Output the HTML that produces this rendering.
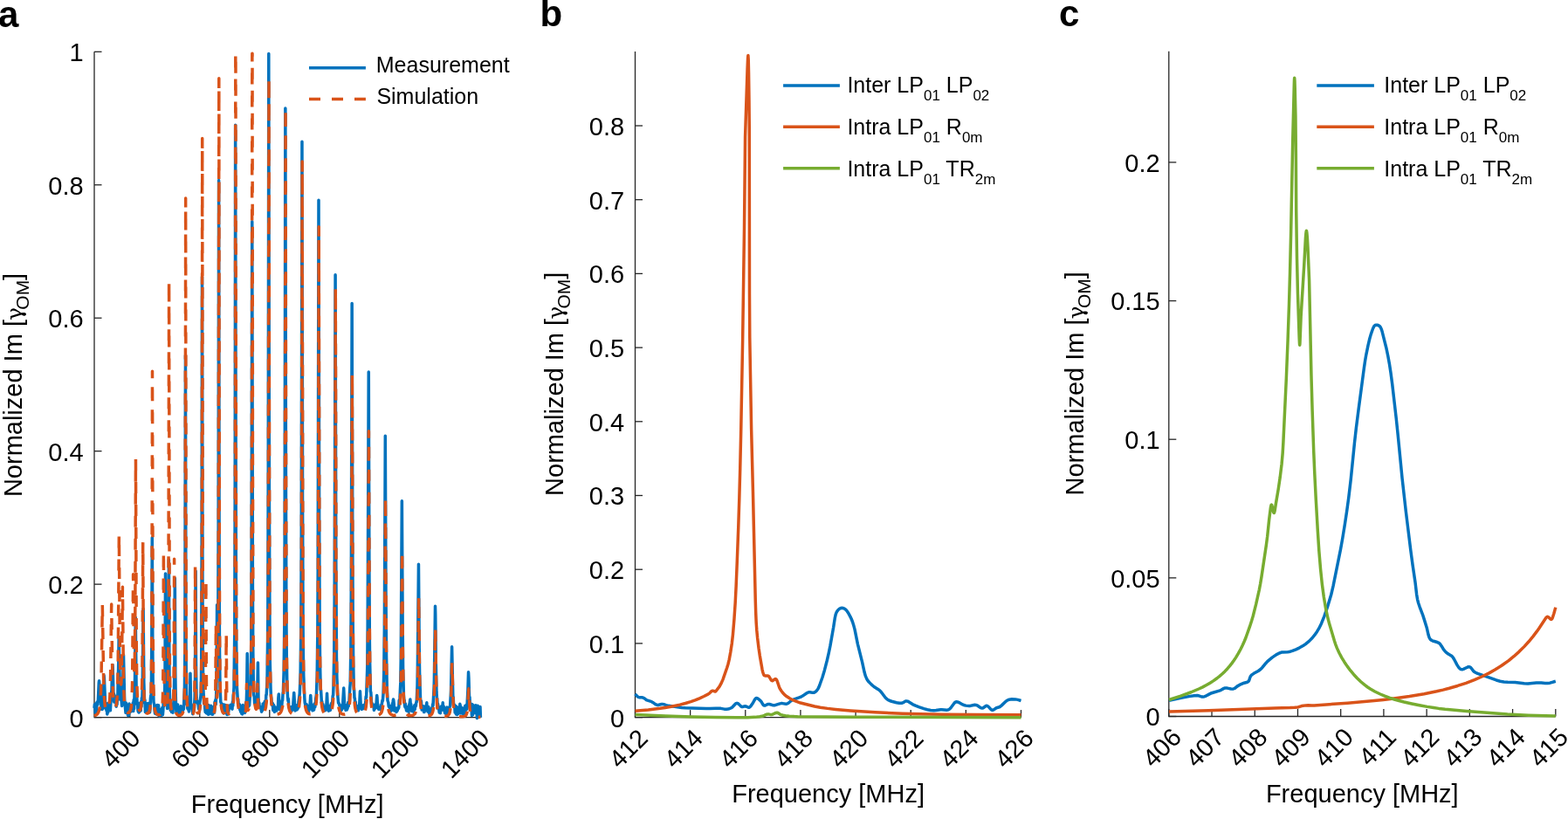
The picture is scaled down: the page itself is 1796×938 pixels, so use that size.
<!DOCTYPE html><html><head><meta charset="utf-8"><title>Figure</title><style>html,body{margin:0;padding:0;background:#fff;overflow:hidden}svg{display:block}</style></head><body>
<svg width="1796" height="938" viewBox="0 0 1796 938" font-family="'Liberation Sans', Arial, Helvetica, sans-serif" fill="#000">
<rect width="1796" height="938" fill="#fff"/>
<text x="-2" y="31.2" font-size="42" font-weight="bold">a</text>
<text x="618.5" y="29.8" font-size="42" font-weight="bold">b</text>
<text x="1213" y="30.2" font-size="42" font-weight="bold">c</text>
<path d="M108.00 59.30V821.60H550.40" fill="none" stroke="#262626" stroke-width="1.3"/>
<path d="M108.00 821.60H116.50" stroke="#262626" stroke-width="1.3"/>
<text x="95.60" y="832.50" text-anchor="end" font-size="29">0</text>
<path d="M108.00 669.14H116.50" stroke="#262626" stroke-width="1.3"/>
<text x="95.60" y="680.04" text-anchor="end" font-size="29">0.2</text>
<path d="M108.00 516.68H116.50" stroke="#262626" stroke-width="1.3"/>
<text x="95.60" y="527.58" text-anchor="end" font-size="29">0.4</text>
<path d="M108.00 364.22H116.50" stroke="#262626" stroke-width="1.3"/>
<text x="95.60" y="375.12" text-anchor="end" font-size="29">0.6</text>
<path d="M108.00 211.76H116.50" stroke="#262626" stroke-width="1.3"/>
<text x="95.60" y="222.66" text-anchor="end" font-size="29">0.8</text>
<path d="M108.00 59.30H116.50" stroke="#262626" stroke-width="1.3"/>
<text x="95.60" y="70.20" text-anchor="end" font-size="29">1</text>
<path d="M148.80 821.60V813.10" stroke="#262626" stroke-width="1.3"/>
<text transform="translate(162.50 847.30) rotate(-45)" text-anchor="end" font-size="29">400</text>
<path d="M228.80 821.60V813.10" stroke="#262626" stroke-width="1.3"/>
<text transform="translate(242.50 847.30) rotate(-45)" text-anchor="end" font-size="29">600</text>
<path d="M308.80 821.60V813.10" stroke="#262626" stroke-width="1.3"/>
<text transform="translate(322.50 847.30) rotate(-45)" text-anchor="end" font-size="29">800</text>
<path d="M388.80 821.60V813.10" stroke="#262626" stroke-width="1.3"/>
<text transform="translate(402.50 847.30) rotate(-45)" text-anchor="end" font-size="29">1000</text>
<path d="M468.80 821.60V813.10" stroke="#262626" stroke-width="1.3"/>
<text transform="translate(482.50 847.30) rotate(-45)" text-anchor="end" font-size="29">1200</text>
<path d="M548.80 821.60V813.10" stroke="#262626" stroke-width="1.3"/>
<text transform="translate(562.50 847.30) rotate(-45)" text-anchor="end" font-size="29">1400</text>
<path d="M108.00 811.00L108.40 806.68L108.80 808.31L109.20 816.42L109.60 814.93L110.00 805.75L110.40 818.32L110.80 805.06L111.20 804.18L111.60 807.29L111.80 807.22L112.00 806.81L112.30 803.70L113.25 782.51L113.55 779.67L114.00 785.79L114.40 787.50L115.20 802.30L115.60 798.66L116.00 811.25L116.40 812.29L116.80 805.05L117.20 812.41L117.60 810.21L118.40 792.49L118.80 775.80L119.05 773.58L119.40 776.85L120.80 811.36L121.00 811.49L121.20 811.30L121.60 805.47L122.00 813.86L122.40 812.01L122.80 817.91L123.20 805.86L123.60 816.05L124.00 814.39L124.40 805.18L124.80 810.48L125.20 805.12L125.60 807.67L126.00 805.35L126.40 813.78L126.80 805.23L127.20 802.66L127.60 792.02L127.80 791.78L128.00 790.17L128.40 770.99L128.95 761.38L129.20 764.96L130.00 797.71L130.40 794.39L130.80 804.06L131.20 796.41L131.60 801.55L132.20 798.21L132.30 797.98L132.45 798.12L132.80 799.66L133.20 809.13L133.60 805.12L134.00 806.90L134.40 801.67L134.60 801.58L134.80 800.57L135.20 776.98L135.60 767.32L136.15 731.65L137.60 801.11L138.00 795.78L138.80 798.68L139.60 808.46L140.00 804.63L141.50 749.94L142.55 798.03L142.80 803.83L144.00 816.28L144.40 805.11L144.80 811.64L145.20 810.95L145.60 814.53L146.00 808.61L146.40 819.25L146.80 814.40L147.20 819.42L147.60 818.16L148.00 806.11L148.80 813.86L149.20 812.47L149.60 807.42L150.00 814.90L150.40 811.26L150.80 809.75L151.20 814.19L152.40 804.77L152.80 814.48L153.20 801.62L153.60 811.79L154.55 776.26L155.25 707.26L156.15 792.65L156.80 799.63L157.20 806.97L157.60 805.84L158.00 814.01L158.40 815.10L158.80 813.21L159.20 816.05L159.60 813.81L160.00 805.33L160.80 813.46L161.20 813.92L161.60 803.55L162.00 809.30L162.40 799.36L162.80 801.14L163.20 790.43L164.10 697.35L164.80 781.23L165.60 805.47L166.00 801.72L166.40 815.45L166.80 811.51L167.20 810.96L167.60 805.41L168.00 815.41L168.40 807.87L168.80 809.75L169.20 809.18L169.60 810.32L170.00 805.42L170.40 813.99L170.80 812.67L171.60 815.89L172.00 812.15L172.40 799.95L172.80 796.35L173.00 797.47L173.20 796.62L173.40 783.94L173.80 738.12L174.30 615.78L174.85 742.41L175.20 783.51L175.60 790.46L176.00 804.12L176.80 807.35L177.20 814.78L177.60 817.28L178.40 808.70L178.80 808.32L179.20 809.72L179.60 818.29L180.00 807.55L180.40 809.17L180.80 808.23L181.20 813.11L181.60 807.83L182.00 819.64L182.80 819.99L183.20 816.83L183.60 816.85L184.00 817.62L184.40 812.41L184.80 819.43L185.20 811.85L185.60 817.37L186.00 810.21L186.40 818.66L186.80 814.21L187.20 804.93L187.60 808.88L188.35 799.84L188.70 790.00L189.00 768.74L189.50 656.94L190.05 777.61L190.30 789.17L190.60 794.67L191.20 800.66L191.60 811.51L192.45 797.76L192.80 779.36L193.40 640.93L194.00 781.10L194.20 790.47L195.20 813.44L195.60 806.55L196.00 805.88L196.40 815.40L196.80 810.65L197.20 809.80L197.60 809.98L198.00 816.22L198.40 807.77L198.80 806.12L198.90 804.69L199.40 794.55L199.90 760.27L200.30 662.28L200.80 769.18L201.05 788.10L201.65 811.51L202.00 815.60L202.40 809.00L202.80 815.56L203.60 806.93L204.00 814.52L204.40 816.31L205.20 811.20L205.60 818.44L206.00 814.80L206.40 817.95L206.80 811.02L207.20 808.73L207.60 814.43L208.00 814.27L208.40 811.80L208.80 815.56L209.45 813.36L210.00 809.60L210.40 812.23L211.45 785.98L211.85 746.00L212.45 406.91L212.95 722.01L213.25 774.58L213.80 802.44L214.00 806.65L214.40 800.69L214.80 811.26L215.05 811.93L215.20 812.19L215.60 806.31L216.40 814.96L216.80 811.24L217.20 803.44L217.35 804.02L217.45 803.69L217.60 801.26L218.00 771.29L218.50 806.57L218.65 806.88L218.80 805.81L219.10 807.30L219.30 807.65L219.60 807.74L220.00 809.98L220.80 817.66L221.60 808.16L222.00 814.42L222.45 811.18L223.10 798.26L223.50 777.57L224.10 653.89L224.50 758.26L225.00 794.90L225.20 800.66L225.55 804.13L225.60 804.40L225.70 804.21L226.00 803.00L226.80 806.31L227.20 807.21L227.60 811.77L228.00 808.25L228.40 813.12L228.80 804.68L229.80 798.33L230.10 793.70L230.45 779.24L230.75 749.47L231.15 621.55L231.50 316.96L232.05 692.91L232.35 757.77L232.80 787.74L233.60 805.63L234.00 803.09L234.40 803.84L234.80 811.59L235.20 815.49L235.60 808.47L236.00 806.07L236.40 816.74L236.80 810.10L237.60 807.92L238.00 817.76L238.40 818.23L238.80 807.39L239.20 818.04L239.60 817.33L240.00 812.51L240.40 814.07L240.80 810.37L241.20 817.12L241.60 808.31L242.00 816.67L242.40 809.92L242.80 818.27L243.20 813.23L243.60 818.37L244.00 814.76L244.40 814.49L244.80 809.24L245.60 816.12L246.00 804.02L246.40 804.08L246.80 801.89L247.20 806.74L247.85 791.87L248.20 764.47L248.60 692.77L249.10 756.96L249.30 761.33L249.45 759.27L249.70 740.75L250.15 601.06L250.60 206.42L251.15 666.79L251.45 739.48L252.00 786.60L252.80 803.99L253.60 805.76L254.40 811.13L254.80 807.26L255.20 806.89L255.60 815.50L256.00 816.36L256.40 816.90L256.80 806.95L257.20 807.58L257.60 816.04L258.00 807.49L258.40 816.48L258.80 813.05L259.20 813.19L259.60 808.34L260.00 818.53L260.80 811.96L261.20 818.10L262.00 813.29L262.40 808.34L262.80 809.57L263.20 808.58L264.00 809.42L264.40 807.39L264.80 808.83L265.20 807.56L265.60 811.70L266.00 812.09L266.40 803.72L266.80 808.19L267.20 796.04L267.60 794.08L268.00 787.14L268.80 720.69L269.20 563.28L269.65 143.15L270.30 654.42L270.65 735.53L271.30 785.47L272.15 799.06L272.40 801.76L272.80 800.88L273.20 808.51L273.60 809.97L274.00 807.76L274.40 806.83L274.80 813.00L275.20 809.63L275.60 815.14L276.40 809.26L276.80 817.32L277.20 809.97L277.60 818.03L278.00 807.48L278.40 812.96L278.80 813.59L279.20 810.02L279.60 812.08L280.00 809.56L280.40 816.45L280.80 810.65L281.20 809.96L281.60 804.52L282.00 811.94L282.65 791.33L283.20 748.42L283.65 789.30L284.40 807.42L284.80 809.12L285.20 801.47L285.60 807.84L286.70 791.73L287.10 783.04L287.70 742.48L288.05 677.61L288.75 253.69L289.35 655.76L289.75 743.23L290.30 781.81L290.80 796.22L291.20 797.82L291.60 805.08L292.00 806.25L292.40 804.48L293.20 810.20L293.60 804.75L294.00 808.58L294.85 791.31L295.40 759.09L296.00 801.44L296.35 806.34L296.40 806.53L296.55 806.22L296.80 804.78L297.20 809.31L297.60 810.33L298.00 809.63L298.40 809.74L299.20 812.67L299.60 815.18L300.00 813.93L300.40 813.79L300.80 812.14L301.20 805.88L301.60 812.36L302.00 810.93L302.40 811.18L303.20 803.58L303.60 803.01L304.00 806.69L304.40 805.62L304.80 796.16L305.00 796.07L305.20 795.50L306.00 780.03L306.60 731.48L306.85 693.04L307.25 537.29L307.80 61.59L308.40 563.44L308.95 724.05L309.30 759.43L310.05 789.81L310.40 796.73L310.80 799.73L311.20 806.18L311.60 807.28L312.00 805.17L312.40 805.77L312.80 813.45L313.20 807.78L313.60 807.55L314.40 815.37L314.80 809.86L315.20 814.09L315.60 810.56L316.00 813.08L316.40 810.71L316.80 814.07L317.20 811.90L317.60 811.07L318.00 809.34L318.40 811.41L318.80 799.96L319.30 794.92L319.85 806.44L320.40 812.58L321.20 807.20L321.60 807.41L322.00 811.21L322.40 810.78L322.80 807.91L323.20 802.34L323.60 802.21L324.00 794.92L324.40 791.65L325.15 769.13L325.75 719.13L326.15 624.04L326.85 124.10L327.45 558.98L327.90 706.48L328.25 748.86L328.80 782.74L329.50 798.26L330.00 802.90L330.40 800.50L330.80 809.82L331.20 810.09L331.60 811.35L332.00 809.84L332.40 813.98L332.80 811.11L333.20 813.70L333.60 813.15L334.00 809.39L334.40 813.91L334.80 810.52L335.20 811.52L335.60 810.09L336.70 793.39L338.00 813.91L338.40 810.09L338.80 810.68L339.20 809.43L339.60 813.07L340.00 807.64L340.40 807.59L340.80 812.21L341.20 809.94L341.60 810.70L342.00 803.65L343.25 794.86L344.15 771.66L344.75 723.24L345.20 624.74L345.95 162.21L346.55 571.07L347.05 713.30L347.40 752.74L347.80 774.61L348.85 799.76L349.20 804.64L350.00 808.57L350.40 809.19L350.80 809.29L351.20 806.82L351.60 811.91L352.00 808.13L352.40 809.99L352.80 809.04L353.60 815.00L354.00 809.43L354.40 812.60L354.80 812.01L355.75 796.44L356.40 807.72L356.80 806.39L357.20 812.22L357.60 809.71L358.00 813.75L358.40 808.94L358.80 813.48L359.20 810.35L359.60 813.09L360.40 805.83L360.80 809.77L361.20 806.75L361.60 801.01L362.40 795.75L363.20 774.01L363.85 723.41L364.20 653.46L365.00 229.29L365.65 593.81L366.15 719.25L366.60 762.21L367.20 789.44L367.60 790.97L368.40 804.69L368.80 803.49L369.20 808.35L369.60 808.34L370.00 806.64L370.40 810.21L370.80 811.88L371.20 812.17L371.60 814.02L372.00 813.18L372.40 812.81L372.90 813.29L373.20 813.27L374.00 806.12L374.55 794.16L375.20 808.43L375.40 809.11L375.60 809.15L376.00 810.73L376.40 814.15L376.80 813.96L377.20 808.71L377.60 811.34L378.00 808.77L378.40 813.40L379.20 806.58L379.60 805.55L380.00 810.12L380.40 804.76L380.80 803.29L381.20 796.99L381.40 796.93L381.60 796.28L382.00 786.36L382.75 746.72L383.20 682.55L384.10 314.67L384.80 640.23L385.45 752.89L385.90 776.51L386.80 796.28L387.60 805.14L388.40 805.74L388.80 807.97L389.20 807.33L390.00 812.55L390.40 810.21L390.80 810.99L391.20 813.21L392.00 807.92L392.40 811.30L393.70 788.06L394.50 805.18L394.80 807.28L395.60 809.92L396.00 813.37L396.40 808.56L396.80 807.71L397.20 813.07L397.60 811.61L398.00 811.51L398.40 806.04L398.80 804.50L399.20 808.94L399.60 804.90L400.00 802.97L400.80 787.37L401.20 782.87L401.85 743.70L402.30 674.88L403.15 347.45L403.80 619.24L404.25 718.26L404.65 756.30L405.20 785.67L405.60 790.03L406.00 799.17L406.40 799.76L406.80 807.68L407.20 803.69L407.60 809.95L408.40 808.35L409.20 812.74L409.60 813.17L410.00 812.25L410.40 813.71L410.80 812.12L411.20 811.62L411.90 803.57L412.45 791.87L413.20 807.60L413.40 808.89L413.60 809.39L414.00 808.17L414.40 812.38L414.80 811.71L415.20 809.40L415.60 811.72L416.00 808.21L416.40 807.66L416.80 811.34L417.20 807.77L417.60 810.21L418.00 809.84L418.80 802.96L419.20 797.64L419.60 798.59L419.70 796.18L420.70 765.86L421.15 721.51L422.25 425.97L422.90 650.23L423.35 733.62L423.65 758.91L424.40 791.62L424.60 792.62L424.80 792.78L425.60 806.44L426.00 805.22L426.40 807.60L426.80 808.08L427.20 807.80L427.60 808.89L428.00 807.22L428.40 813.36L428.80 809.10L429.20 811.97L429.60 809.37L430.40 806.89L430.80 810.18L431.70 796.44L432.00 799.05L432.40 807.98L432.80 806.66L433.20 811.49L433.60 812.23L434.00 809.81L434.40 811.79L435.20 812.01L435.60 811.33L436.00 812.85L436.40 812.74L436.80 807.12L437.20 807.26L438.00 801.90L438.40 802.73L439.05 793.81L439.75 770.43L440.35 718.48L441.30 499.15L442.00 679.52L442.55 751.01L443.25 786.96L444.00 802.29L444.80 804.78L445.20 808.82L445.60 809.49L446.00 808.69L446.40 809.57L446.80 813.12L447.20 809.74L447.60 814.30L448.00 808.33L448.40 813.55L449.10 812.67L449.60 805.33L450.00 806.63L450.30 802.22L450.55 801.02L450.80 801.89L451.20 805.80L451.60 813.88L452.00 811.48L452.40 811.35L452.80 810.85L453.20 813.40L453.60 813.39L454.00 815.45L454.40 814.99L454.80 811.12L455.20 813.91L456.00 810.73L456.40 811.46L456.80 810.27L457.20 802.08L457.60 802.51L458.00 799.66L458.80 781.89L459.25 753.30L460.35 573.85L461.10 710.04L461.60 765.17L462.40 795.58L462.80 801.29L463.20 801.89L463.60 808.28L464.00 809.81L464.40 806.06L464.80 810.97L465.20 811.75L465.60 814.01L466.00 809.57L466.80 811.79L467.20 811.39L467.60 814.89L468.00 813.55L468.80 807.03L469.15 805.76L469.85 801.02L470.40 809.06L470.80 806.52L471.20 814.00L471.60 814.46L472.00 810.98L472.40 810.35L472.80 810.57L473.60 814.64L474.00 815.39L474.40 809.26L474.80 807.87L475.20 812.43L475.60 807.09L476.00 809.17L476.40 808.09L476.80 804.15L477.00 804.22L477.20 803.85L478.00 785.28L478.30 768.52L479.45 646.27L480.20 741.52L480.60 770.64L481.60 802.62L482.00 807.18L482.40 802.83L483.20 813.03L483.60 810.54L484.40 812.35L484.80 808.82L485.20 809.11L485.60 815.58L486.00 815.47L486.80 809.95L487.20 811.03L487.60 809.06L488.00 808.05L488.25 808.13L488.40 808.51L488.80 804.83L489.20 813.83L489.60 810.16L490.00 815.00L490.40 813.28L490.80 809.52L491.60 816.92L492.40 811.94L492.80 816.59L493.20 814.78L493.60 816.33L494.00 811.68L494.40 812.36L494.80 810.56L495.20 811.13L495.60 806.59L496.00 808.20L497.15 786.79L497.40 777.58L498.50 694.30L498.75 704.09L499.30 760.09L500.00 792.94L500.40 798.49L500.80 800.38L501.20 810.64L501.60 806.21L502.05 810.11L502.40 812.14L502.80 813.09L503.20 816.01L503.60 814.79L504.00 811.94L504.40 816.65L504.80 811.81L505.20 809.26L505.60 808.92L506.00 809.26L506.40 809.03L506.80 812.89L507.20 804.83L507.60 812.79L508.00 808.67L508.40 809.64L509.60 816.67L510.00 813.93L510.80 817.47L511.20 817.41L511.60 811.29L512.00 810.06L512.40 816.92L512.80 817.85L513.20 815.28L513.60 816.03L514.00 814.97L514.40 810.57L514.80 810.89L515.20 809.12L515.60 808.49L516.55 790.77L517.60 740.80L518.80 796.85L519.00 798.20L519.20 798.52L519.60 807.31L520.00 808.76L520.40 806.87L520.80 809.89L521.20 816.12L521.60 816.28L522.00 808.57L522.40 818.01L522.80 815.64L523.20 809.50L523.60 818.61L524.00 817.23L524.40 816.67L524.80 817.70L525.20 813.58L525.60 811.62L526.00 812.86L526.40 813.17L526.80 806.35L527.20 808.20L528.00 817.05L528.40 813.55L528.80 812.95L529.20 815.09L529.60 810.86L530.00 815.58L530.40 814.37L530.80 818.37L531.20 813.70L531.60 811.44L532.00 811.61L532.40 816.46L532.80 808.17L533.60 813.36L534.00 812.60L534.40 807.13L534.80 812.03L535.95 789.47L536.55 769.76L536.90 776.30L537.60 799.78L537.80 799.60L538.00 798.47L538.40 810.01L538.80 807.35L539.20 812.48L539.60 806.37L540.00 806.70L540.40 819.46L540.80 806.40L541.60 818.74L542.00 811.98L542.40 816.85L542.80 807.88L543.20 813.27L543.60 812.62L544.00 815.32L544.80 809.19L545.20 807.81L545.60 817.33L546.00 813.84L546.40 822.56L547.20 808.18L547.60 821.08L548.00 809.68L548.80 818.53L549.20 811.18L549.60 818.66L550.00 809.45L550.40 821.85" fill="none" stroke="#0072BD" stroke-width="3.50" stroke-linejoin="round"/>
<path d="M108.00 819.82L109.70 819.14L111.00 818.25L112.05 817.04L112.90 815.43L113.60 813.27L114.15 810.61L115.00 802.93L115.60 791.52L116.05 775.51L117.30 692.77L118.65 779.36L119.30 797.37L120.20 807.67L120.85 810.98L121.60 812.92L122.05 813.49L122.50 813.74L123.00 813.66L123.45 813.26L124.20 811.72L124.80 809.22L125.70 800.71L126.20 789.99L126.60 774.04L127.70 692.01L128.75 770.88L129.50 796.45L130.20 805.25L130.65 807.96L131.15 809.57L131.75 810.25L132.10 810.13L132.40 809.73L133.00 807.99L133.50 805.20L134.10 798.94L134.55 790.15L135.20 761.96L136.35 612.73L137.35 743.01L137.75 768.63L138.25 781.96L138.60 784.03L138.90 781.67L139.40 765.75L140.40 672.19L141.35 769.18L141.75 788.71L142.35 802.28L142.85 807.71L143.45 811.33L144.25 813.91L145.25 815.48L146.00 816.04L146.80 816.23L147.60 816.04L148.30 815.51L149.35 813.64L150.15 810.34L150.70 805.63L151.10 799.17L151.65 778.79L152.60 657.71L153.45 760.26L153.85 770.98L154.10 768.04L154.30 760.21L154.80 702.66L155.45 525.83L156.25 737.44L156.70 778.23L157.40 800.24L157.90 806.54L158.50 810.46L159.35 812.95L159.85 813.46L160.30 813.43L161.05 812.09L161.65 808.93L162.40 797.03L162.75 781.83L163.05 753.76L163.70 621.12L164.35 754.06L164.65 782.28L165.10 800.36L165.85 810.81L166.45 813.99L167.20 815.87L167.80 816.60L168.50 816.97L169.25 816.94L169.95 816.52L171.00 814.80L171.80 811.62L172.50 805.11L173.00 794.33L173.65 750.06L174.00 669.88L174.50 425.20L175.20 721.06L175.60 773.54L176.20 799.48L176.65 807.10L177.30 812.47L178.20 815.81L178.75 816.89L179.45 817.75L180.65 818.52L182.05 818.76L183.35 818.45L184.30 817.62L184.95 816.35L185.40 814.66L186.05 808.88L186.55 794.56L186.85 769.11L187.40 631.79L187.85 752.68L188.25 793.92L188.60 805.24L189.15 811.60L189.60 813.37L190.10 813.83L190.65 813.05L191.15 811.00L191.85 803.69L192.35 789.27L192.90 732.28L193.60 322.29L194.15 703.88L194.45 762.47L195.00 796.57L195.70 808.86L196.25 812.41L196.90 814.04L197.25 814.15L197.55 813.78L198.05 811.69L198.45 807.05L198.70 800.65L199.15 763.35L199.60 640.17L200.10 771.52L200.35 794.55L200.80 809.03L201.15 813.23L201.70 816.25L202.50 818.04L203.65 818.99L204.75 819.29L206.00 819.28L207.10 818.97L208.05 818.37L208.75 817.56L209.30 816.51L210.15 813.29L210.95 804.94L211.45 789.91L212.00 727.40L212.65 227.01L213.15 678.43L213.45 755.61L214.00 796.07L214.35 804.90L214.80 810.69L215.45 814.69L216.40 817.21L217.35 818.29L218.50 818.80L219.75 818.74L220.75 818.07L221.35 817.03L221.80 815.47L222.40 810.24L222.85 797.17L223.10 776.03L223.60 647.80L224.05 768.65L224.50 803.13L225.00 812.19L225.35 814.56L225.80 816.01L226.55 816.79L227.00 816.75L227.50 816.36L228.30 814.88L228.95 812.35L229.80 804.22L230.35 789.57L230.75 761.80L231.00 721.33L231.35 555.63L231.70 158.40L232.25 657.78L232.55 742.31L233.05 786.64L233.45 798.87L234.05 805.75L234.25 806.38L234.40 806.35L234.70 804.71L235.10 796.06L235.50 760.32L235.90 664.57L236.40 776.45L236.65 796.46L237.10 809.23L237.45 813.03L237.95 815.66L238.70 817.41L239.75 818.41L240.70 818.76L241.75 818.83L242.85 818.62L243.75 818.15L244.95 816.68L245.75 814.08L246.40 807.63L246.80 794.22L247.40 714.88L247.85 779.06L248.30 797.70L248.55 798.89L248.80 797.23L249.25 787.32L249.85 742.53L250.30 599.69L250.80 89.79L251.35 638.93L251.65 730.48L252.20 784.00L252.85 802.76L253.30 808.33L253.85 812.11L254.85 815.36L255.50 816.30L256.15 816.69L256.75 816.56L257.25 815.87L257.90 813.00L258.35 806.40L258.65 793.79L259.20 726.31L259.70 790.25L259.95 803.59L260.35 811.78L260.65 814.32L261.10 816.17L261.75 817.26L262.60 817.64L263.80 817.28L264.85 816.21L265.70 814.48L266.35 812.17L266.95 808.49L267.45 803.13L268.15 786.69L268.60 760.28L268.95 712.28L269.35 552.76L269.80 61.21L269.95 61.21L270.50 627.58L270.85 727.16L271.45 781.63L271.85 795.26L272.45 805.40L273.25 811.58L274.35 815.30L275.05 816.51L275.90 817.40L276.95 817.99L278.10 818.24L279.20 818.13L280.10 817.67L280.70 816.93L281.15 815.75L281.60 812.95L281.90 808.26L282.50 783.48L283.00 804.66L283.35 810.94L283.65 812.77L284.10 813.44L284.65 812.80L285.20 811.08L285.85 807.29L286.35 802.06L287.10 785.00L287.60 755.96L287.95 709.10L288.40 533.61L288.80 79.65L288.85 61.21L289.00 61.21L289.45 526.42L289.90 707.07L290.25 755.00L290.80 786.34L291.60 803.07L292.15 808.09L292.85 811.37L293.30 812.26L293.50 812.33L293.70 812.13L294.00 811.02L294.25 808.66L295.00 783.48L295.60 807.22L295.90 812.16L296.40 815.38L296.90 816.65L297.55 817.41L298.50 817.84L299.65 817.87L300.80 817.52L301.80 816.82L302.65 815.78L303.35 814.41L304.50 810.03L305.30 803.18L305.85 793.60L306.30 778.44L306.90 727.51L307.30 627.07L308.00 89.79L308.55 551.34L309.05 719.69L309.45 763.91L310.05 791.02L310.95 805.90L311.55 810.30L312.35 813.59L313.20 815.53L314.30 816.92L315.70 817.77L317.40 818.07L319.10 817.78L320.55 816.92L321.65 815.58L322.55 813.60L323.60 809.03L324.35 802.10L324.90 792.07L325.35 776.34L325.95 724.63L326.35 626.39L327.05 124.10L327.65 560.50L328.15 718.44L328.55 762.15L329.15 789.65L330.05 805.06L330.65 809.67L331.45 813.13L332.25 815.10L333.30 816.57L334.60 817.50L336.20 817.91L337.90 817.73L339.35 817.00L340.50 815.76L341.45 813.88L342.55 809.49L343.35 802.59L343.90 793.20L344.35 778.81L344.95 733.45L345.35 652.25L346.15 185.08L346.75 581.21L347.30 729.54L347.70 766.75L348.30 791.24L349.20 805.51L349.80 809.89L350.60 813.22L351.40 815.13L352.40 816.52L353.70 817.46L355.20 817.88L356.85 817.77L358.30 817.12L359.45 815.99L360.40 814.27L361.50 810.33L362.30 804.27L362.90 795.25L363.35 782.53L364.00 738.42L364.40 665.33L365.20 259.78L365.85 607.44L366.40 736.07L366.80 769.83L367.40 792.57L368.30 806.06L368.90 810.24L369.65 813.30L370.45 815.21L371.40 816.54L372.65 817.48L374.10 817.94L375.75 817.90L377.20 817.34L378.40 816.29L379.35 814.75L380.50 811.01L381.30 805.51L381.90 797.45L382.35 786.31L383.00 749.12L383.45 679.06L384.30 329.92L384.95 632.40L385.50 743.08L385.90 773.38L386.50 794.23L387.40 806.82L388.00 810.77L388.75 813.68L389.50 815.41L390.40 816.68L391.55 817.60L392.90 818.11L394.50 818.21L396.00 817.83L397.25 817.01L398.25 815.74L399.40 812.81L400.25 808.25L400.85 802.01L401.35 792.37L402.00 763.62L402.45 712.13L403.35 428.25L404.05 668.74L404.60 755.74L405.00 780.55L405.60 797.98L406.45 808.31L407.05 811.86L407.75 814.33L408.50 815.93L409.40 817.09L410.50 817.91L411.80 818.38L413.40 818.49L414.90 818.18L416.15 817.47L417.15 816.38L418.35 813.77L419.20 809.91L419.85 804.15L420.35 795.93L421.05 769.22L421.50 724.93L422.40 493.81L423.15 690.96L423.70 763.08L424.10 784.58L424.70 800.04L425.55 809.38L426.10 812.40L426.80 814.76L427.50 816.21L428.35 817.31L429.35 818.08L430.60 818.60L432.15 818.81L433.70 818.63L435.00 818.10L436.05 817.24L437.25 815.24L438.15 812.11L438.85 807.27L439.35 800.84L440.05 780.65L440.50 748.73L441.50 569.28L442.25 718.90L442.80 773.89L443.25 792.45L443.80 803.52L444.60 810.94L445.15 813.59L445.80 815.53L446.45 816.76L447.25 817.73L448.20 818.44L449.35 818.92L450.80 819.18L452.35 819.13L453.70 818.78L454.80 818.17L456.10 816.64L457.05 814.26L457.75 810.82L458.30 805.81L459.05 790.21L459.55 763.75L460.55 631.02L461.35 742.49L461.90 783.60L462.35 798.02L462.90 806.81L463.65 812.55L464.75 816.24L465.40 817.37L466.15 818.20L467.05 818.83L468.15 819.28L469.55 819.55L471.10 819.58L472.50 819.36L473.65 818.91L475.00 817.78L476.00 815.97L476.75 813.26L477.30 809.56L478.05 798.39L478.55 780.27L479.65 683.62L480.45 763.01L481.00 792.52L481.40 802.40L481.95 809.53L482.65 813.99L483.65 816.95L484.95 818.63L486.80 819.59L489.60 819.97L492.30 819.57L493.75 818.77L494.85 817.43L495.65 815.44L496.25 812.62L497.00 804.99L497.55 791.50L498.70 720.21L499.55 777.56L500.05 797.78L500.45 805.80L500.95 811.27L501.60 814.96L502.45 817.35L503.60 818.87L505.20 819.80L507.60 820.30L510.40 820.28L512.25 819.86L513.55 819.08L514.50 817.81L515.20 815.93L516.05 810.57L516.60 802.03L517.75 759.09L519.10 805.29L519.85 813.57L520.35 816.04L521.05 817.93L521.95 819.17L523.15 819.98L524.85 820.50L527.25 820.76L529.95 820.72L531.95 820.36L533.25 819.67L534.15 818.54L535.00 815.92L535.60 811.41L536.85 788.82L538.05 811.10L538.60 815.56L539.30 818.13L540.40 819.76L542.15 820.66L545.05 821.12L550.40 821.35" fill="none" stroke="#D95319" stroke-width="3.50" stroke-linejoin="round" stroke-dasharray="13 13"/>
<text transform="translate(25.10 569.10) rotate(-90)" font-size="29">Normalized Im [<tspan font-family="'DejaVu Serif', serif" font-size="25" dx="-1.0">γ</tspan><tspan font-size="21" dx="-2.6" dy="7.6">OM</tspan><tspan dx="0" dy="-7.6">]</tspan></text>
<text x="329.20" y="931.00" text-anchor="middle" font-size="29">Frequency [MHz]</text>
<path d="M354 77.8H418.9" stroke="#0072BD" stroke-width="3.50"/>
<path d="M354 113.4H418.9" stroke="#D95319" stroke-width="3.50" stroke-dasharray="13 13"/>
<text x="430.8" y="83" font-size="25">Measurement</text>
<text x="431.4" y="118.8" font-size="25">Simulation</text>
<path d="M727.50 59.00V821.60H1169.50" fill="none" stroke="#262626" stroke-width="1.3"/>
<path d="M727.50 821.60H736.00" stroke="#262626" stroke-width="1.3"/>
<text x="715.10" y="832.50" text-anchor="end" font-size="29">0</text>
<path d="M727.50 736.90H736.00" stroke="#262626" stroke-width="1.3"/>
<text x="715.10" y="747.80" text-anchor="end" font-size="29">0.1</text>
<path d="M727.50 652.20H736.00" stroke="#262626" stroke-width="1.3"/>
<text x="715.10" y="663.10" text-anchor="end" font-size="29">0.2</text>
<path d="M727.50 567.50H736.00" stroke="#262626" stroke-width="1.3"/>
<text x="715.10" y="578.40" text-anchor="end" font-size="29">0.3</text>
<path d="M727.50 482.80H736.00" stroke="#262626" stroke-width="1.3"/>
<text x="715.10" y="493.70" text-anchor="end" font-size="29">0.4</text>
<path d="M727.50 398.10H736.00" stroke="#262626" stroke-width="1.3"/>
<text x="715.10" y="409.00" text-anchor="end" font-size="29">0.5</text>
<path d="M727.50 313.40H736.00" stroke="#262626" stroke-width="1.3"/>
<text x="715.10" y="324.30" text-anchor="end" font-size="29">0.6</text>
<path d="M727.50 228.70H736.00" stroke="#262626" stroke-width="1.3"/>
<text x="715.10" y="239.60" text-anchor="end" font-size="29">0.7</text>
<path d="M727.50 144.00H736.00" stroke="#262626" stroke-width="1.3"/>
<text x="715.10" y="154.90" text-anchor="end" font-size="29">0.8</text>
<path d="M727.50 821.60V813.10" stroke="#262626" stroke-width="1.3"/>
<text transform="translate(743.60 847.30) rotate(-45)" text-anchor="end" font-size="29">412</text>
<path d="M790.64 821.60V813.10" stroke="#262626" stroke-width="1.3"/>
<text transform="translate(806.74 847.30) rotate(-45)" text-anchor="end" font-size="29">414</text>
<path d="M853.78 821.60V813.10" stroke="#262626" stroke-width="1.3"/>
<text transform="translate(869.88 847.30) rotate(-45)" text-anchor="end" font-size="29">416</text>
<path d="M916.93 821.60V813.10" stroke="#262626" stroke-width="1.3"/>
<text transform="translate(933.03 847.30) rotate(-45)" text-anchor="end" font-size="29">418</text>
<path d="M980.07 821.60V813.10" stroke="#262626" stroke-width="1.3"/>
<text transform="translate(996.17 847.30) rotate(-45)" text-anchor="end" font-size="29">420</text>
<path d="M1043.21 821.60V813.10" stroke="#262626" stroke-width="1.3"/>
<text transform="translate(1059.31 847.30) rotate(-45)" text-anchor="end" font-size="29">422</text>
<path d="M1106.35 821.60V813.10" stroke="#262626" stroke-width="1.3"/>
<text transform="translate(1122.45 847.30) rotate(-45)" text-anchor="end" font-size="29">424</text>
<path d="M1169.49 821.60V813.10" stroke="#262626" stroke-width="1.3"/>
<text transform="translate(1185.59 847.30) rotate(-45)" text-anchor="end" font-size="29">426</text>
<path d="M727.50 794.90L730.17 797.72L731.20 798.40L732.48 798.73L735.36 798.83L736.70 799.10L737.80 799.68L739.81 801.23L740.90 801.90L746.40 803.70L747.63 804.40L750.08 806.19L751.33 806.95L752.60 807.40L753.84 807.43L757.67 806.49L758.90 806.40L760.28 806.66L762.95 807.66L765.67 808.34L772.70 809.20L780.91 810.44L785.02 810.80L808.81 811.59L813.02 811.54L820.12 811.20L824.00 811.20L825.53 811.35L829.74 812.14L832.30 812.30L833.79 812.10L835.20 811.76L837.90 810.60L838.96 809.80L842.06 806.44L843.08 805.63L844.10 805.30L845.23 805.67L846.37 806.63L848.60 808.89L849.70 809.50L851.08 809.45L852.44 809.01L853.80 808.80L855.24 809.28L856.67 810.00L858.00 810.20L858.92 809.72L859.75 808.87L862.18 805.53L864.57 801.10L865.41 800.03L866.30 799.50L867.47 799.67L868.71 800.44L871.10 802.60L871.99 803.69L873.56 806.37L874.38 807.48L875.30 808.10L876.43 808.03L878.90 806.77L880.20 806.40L881.37 806.51L885.09 807.66L886.40 807.80L887.72 807.64L893.34 805.85L894.70 805.60L896.13 805.61L900.31 806.17L901.60 806.00L902.77 805.46L905.95 802.74L907.20 801.90L909.66 800.81L915.33 798.89L918.00 797.80L919.29 797.09L924.13 793.79L925.27 793.19L926.40 792.80L927.88 792.75L930.71 793.35L932.00 793.30L933.10 792.88L934.12 792.26L935.08 791.43L936.62 789.52L937.76 787.35L938.81 784.78L942.07 775.47L944.46 767.43L947.28 756.51L949.20 748.08L950.94 739.63L954.66 718.55L956.28 707.91L957.17 703.90L957.94 701.71L958.40 700.80L959.23 699.53L960.15 698.44L961.14 697.56L962.16 696.90L963.20 696.50L964.37 696.36L965.60 696.51L966.82 696.93L968.00 697.60L968.87 698.33L969.74 699.29L971.42 701.71L973.72 705.87L975.03 708.51L976.61 712.50L977.95 716.83L979.03 720.86L982.40 737.60L987.54 758.19L990.14 770.04L991.33 774.14L992.80 777.60L993.56 778.88L995.25 781.10L998.05 783.88L1001.09 786.48L1005.75 789.46L1008.00 791.20L1009.82 793.22L1014.12 799.02L1016.00 800.80L1017.25 801.61L1018.55 802.26L1021.24 803.23L1026.97 804.75L1030.01 805.28L1031.45 805.37L1032.80 805.30L1034.01 804.94L1037.27 803.09L1038.40 802.90L1039.55 803.14L1040.73 803.70L1045.60 806.80L1049.19 808.42L1053.00 809.90L1058.24 811.63L1062.21 812.73L1065.95 813.49L1069.60 813.80L1072.11 813.59L1077.40 812.80L1078.71 812.78L1084.25 813.15L1085.57 813.00L1086.80 812.60L1087.92 811.86L1089.00 810.79L1092.88 805.51L1093.76 804.56L1094.60 804.00L1095.65 803.81L1096.63 803.97L1098.81 804.76L1102.61 806.95L1103.90 807.50L1106.32 808.13L1110.10 808.50L1111.36 808.40L1115.32 807.50L1116.63 807.34L1117.90 807.40L1119.14 807.82L1122.73 810.23L1123.88 810.85L1125.00 811.10L1126.13 810.79L1129.33 808.52L1130.40 808.30L1131.44 808.74L1132.49 809.68L1134.57 812.05L1135.60 812.98L1136.60 813.40L1137.81 813.13L1141.30 810.70L1143.82 810.04L1145.20 809.50L1147.05 808.11L1152.39 803.07L1153.50 802.28L1154.60 801.70L1156.00 801.23L1158.89 800.80L1163.10 800.90L1165.73 801.38L1169.50 802.50" fill="none" stroke="#0072BD" stroke-width="3.50" stroke-linejoin="round" stroke-linecap="butt"/>
<path d="M727.50 814.28L742.50 812.99L756.25 811.35L767.50 809.54L778.75 807.17L785.00 805.53L791.25 803.61L796.25 801.84L801.25 799.82L806.26 797.50L811.36 794.87L812.50 794.14L814.55 792.00L815.50 791.30L816.51 791.21L817.50 791.40L818.42 791.80L819.30 792.00L820.05 791.48L824.00 786.40L825.79 783.19L827.97 778.35L832.70 764.70L833.94 760.78L835.24 755.41L836.74 747.11L838.30 736.99L839.43 727.11L840.95 708.93L842.20 690.00L843.15 671.14L844.33 642.28L845.74 604.36L846.83 570.31L847.74 536.54L848.73 492.63L850.62 390.99L852.51 261.72L853.56 157.10L856.05 79.48L856.57 66.93L856.90 63.40L857.21 68.11L857.54 83.38L857.99 114.69L858.27 148.00L858.49 336.67L858.78 387.02L860.63 491.47L862.47 563.84L865.23 686.68L865.67 701.36L866.17 712.77L866.78 721.71L867.58 730.17L869.07 742.52L870.33 751.09L873.06 766.79L873.73 769.75L874.47 772.07L875.30 773.50L876.36 773.96L878.84 773.97L880.20 774.20L881.02 775.03L883.42 779.06L884.30 779.70L885.32 779.44L887.50 777.78L888.50 777.60L889.13 778.07L889.71 778.94L890.23 780.11L892.73 787.53L893.30 788.70L894.75 791.03L897.11 794.07L898.94 795.90L900.95 797.55L904.40 799.80L906.62 800.99L910.35 802.67L916.88 805.04L933.01 808.99L939.52 810.20L947.82 811.38L956.95 812.47L965.48 813.33L974.03 814.02L1002.23 815.78L1033.58 817.16L1053.66 817.76L1079.35 818.20L1118.64 818.57L1169.50 818.80" fill="none" stroke="#D95319" stroke-width="3.50" stroke-linejoin="round" stroke-linecap="butt"/>
<path d="M727.50 818.60L762.41 820.09L792.40 820.96L819.75 821.46L843.92 821.69L856.21 821.66L864.65 821.37L870.27 820.78L873.90 820.00L875.41 819.46L878.18 818.22L879.50 817.90L880.88 818.05L882.20 818.45L883.60 818.60L884.80 818.27L888.68 816.39L889.90 816.20L891.09 816.54L893.33 818.05L894.70 818.70L897.00 819.27L899.67 819.70L904.11 820.15L909.77 820.57L913.56 820.70L979.15 821.13L1169.50 821.70" fill="none" stroke="#77AC30" stroke-width="3.50" stroke-linejoin="round" stroke-linecap="butt"/>
<text transform="translate(645.00 567.90) rotate(-90)" font-size="29">Normalized Im [<tspan font-family="'DejaVu Serif', serif" font-size="25" dx="-1.0">γ</tspan><tspan font-size="21" dx="-2.6" dy="7.6">OM</tspan><tspan dx="0" dy="-7.6">]</tspan></text>
<text x="948.60" y="919.40" text-anchor="middle" font-size="29">Frequency [MHz]</text>
<path d="M897.1 98.00H961.9" stroke="#0072BD" stroke-width="3.50"/>
<path d="M897.1 145.20H961.9" stroke="#D95319" stroke-width="3.50"/>
<path d="M897.1 192.80H961.9" stroke="#77AC30" stroke-width="3.50"/>
<text x="970.40" y="106.00" font-size="25">Inter LP<tspan font-size="17" dy="8.60">01</tspan><tspan dy="-8.60"> LP</tspan><tspan font-size="17" dy="8.60">02</tspan></text>
<text x="970.40" y="154.00" font-size="25">Intra LP<tspan font-size="17" dy="8.60">01</tspan><tspan dy="-8.60"> R</tspan><tspan font-size="17" dy="8.60">0m</tspan></text>
<text x="970.40" y="201.90" font-size="25">Intra LP<tspan font-size="17" dy="8.60">01</tspan><tspan dy="-8.60"> TR</tspan><tspan font-size="17" dy="8.60">2m</tspan></text>
<path d="M1338.80 58.70V820.50H1781.80" fill="none" stroke="#262626" stroke-width="1.3"/>
<path d="M1338.80 820.50H1347.30" stroke="#262626" stroke-width="1.3"/>
<text x="1328.60" y="831.40" text-anchor="end" font-size="29">0</text>
<path d="M1338.80 661.85H1347.30" stroke="#262626" stroke-width="1.3"/>
<text x="1328.60" y="672.75" text-anchor="end" font-size="29">0.05</text>
<path d="M1338.80 503.20H1347.30" stroke="#262626" stroke-width="1.3"/>
<text x="1328.60" y="514.10" text-anchor="end" font-size="29">0.1</text>
<path d="M1338.80 344.55H1347.30" stroke="#262626" stroke-width="1.3"/>
<text x="1328.60" y="355.45" text-anchor="end" font-size="29">0.15</text>
<path d="M1338.80 185.90H1347.30" stroke="#262626" stroke-width="1.3"/>
<text x="1328.60" y="196.80" text-anchor="end" font-size="29">0.2</text>
<path d="M1338.80 820.50V812.00" stroke="#262626" stroke-width="1.3"/>
<text transform="translate(1354.90 846.20) rotate(-45)" text-anchor="end" font-size="29">406</text>
<path d="M1388.02 820.50V812.00" stroke="#262626" stroke-width="1.3"/>
<text transform="translate(1404.12 846.20) rotate(-45)" text-anchor="end" font-size="29">407</text>
<path d="M1437.24 820.50V812.00" stroke="#262626" stroke-width="1.3"/>
<text transform="translate(1453.34 846.20) rotate(-45)" text-anchor="end" font-size="29">408</text>
<path d="M1486.47 820.50V812.00" stroke="#262626" stroke-width="1.3"/>
<text transform="translate(1502.57 846.20) rotate(-45)" text-anchor="end" font-size="29">409</text>
<path d="M1535.69 820.50V812.00" stroke="#262626" stroke-width="1.3"/>
<text transform="translate(1551.79 846.20) rotate(-45)" text-anchor="end" font-size="29">410</text>
<path d="M1584.91 820.50V812.00" stroke="#262626" stroke-width="1.3"/>
<text transform="translate(1601.01 846.20) rotate(-45)" text-anchor="end" font-size="29">411</text>
<path d="M1634.13 820.50V812.00" stroke="#262626" stroke-width="1.3"/>
<text transform="translate(1650.23 846.20) rotate(-45)" text-anchor="end" font-size="29">412</text>
<path d="M1683.35 820.50V812.00" stroke="#262626" stroke-width="1.3"/>
<text transform="translate(1699.45 846.20) rotate(-45)" text-anchor="end" font-size="29">413</text>
<path d="M1732.58 820.50V812.00" stroke="#262626" stroke-width="1.3"/>
<text transform="translate(1748.68 846.20) rotate(-45)" text-anchor="end" font-size="29">414</text>
<path d="M1781.80 820.50V812.00" stroke="#262626" stroke-width="1.3"/>
<text transform="translate(1797.90 846.20) rotate(-45)" text-anchor="end" font-size="29">415</text>
<path d="M1339.00 802.40L1352.78 799.27L1361.73 797.61L1367.72 796.76L1371.50 796.60L1373.03 796.82L1376.85 798.05L1378.20 798.10L1379.33 797.87L1380.49 797.45L1385.35 794.85L1387.80 793.70L1397.40 790.90L1398.62 790.30L1401.87 788.38L1403.10 788.00L1404.35 787.93L1405.72 788.09L1410.09 789.01L1411.46 789.13L1412.70 789.00L1413.99 788.48L1415.15 787.71L1417.33 785.88L1419.77 784.44L1425.00 782.20L1428.75 781.24L1429.80 780.60L1430.45 779.75L1430.92 778.65L1431.72 776.10L1432.25 774.83L1433.00 773.70L1433.87 772.85L1436.06 771.34L1441.22 768.48L1443.60 766.80L1445.49 764.95L1449.79 759.70L1451.67 757.66L1453.71 755.83L1457.01 753.17L1461.76 749.87L1465.34 747.97L1467.91 747.09L1469.31 746.88L1474.91 746.72L1476.38 746.55L1477.90 746.20L1480.38 745.39L1484.40 743.81L1488.56 741.85L1492.61 739.56L1495.13 737.88L1499.41 734.38L1503.20 730.52L1506.69 726.10L1508.36 723.65L1510.61 719.93L1513.58 713.91L1516.91 705.62L1520.40 695.38L1524.67 681.26L1527.06 671.21L1535.47 629.33L1537.70 617.00L1540.39 600.52L1542.75 584.71L1544.80 569.65L1547.20 549.47L1551.45 507.42L1553.38 490.24L1556.28 467.42L1562.42 421.31L1563.64 412.97L1564.80 406.30L1567.04 395.33L1568.80 387.97L1570.26 382.87L1572.57 376.26L1573.70 373.90L1574.35 373.06L1575.10 372.50L1576.29 372.19L1577.64 372.27L1579.00 372.72L1580.20 373.50L1580.85 374.21L1581.43 375.12L1582.43 377.48L1583.29 380.34L1587.84 398.48L1589.65 407.03L1591.40 416.60L1592.97 426.70L1594.66 439.40L1599.26 479.40L1601.22 498.22L1606.04 547.63L1610.41 586.38L1615.73 629.65L1618.10 647.20L1620.98 666.65L1622.65 681.01L1623.60 686.58L1624.67 690.72L1626.04 694.78L1629.47 703.83L1631.20 709.16L1634.40 719.60L1636.12 727.26L1637.01 730.04L1637.63 731.25L1638.40 732.30L1639.41 733.16L1640.61 733.80L1641.96 734.30L1646.21 735.53L1647.49 736.08L1648.60 736.80L1649.61 737.80L1651.30 740.23L1653.51 743.98L1655.21 745.95L1657.04 747.57L1658.90 749.00L1662.22 750.94L1663.40 751.90L1664.14 752.77L1665.66 755.21L1668.88 761.34L1670.61 764.11L1671.51 765.22L1672.44 766.07L1673.40 766.60L1674.73 766.74L1676.17 766.39L1680.61 764.23L1681.97 763.79L1683.20 763.80L1684.27 764.33L1685.17 765.21L1687.76 768.63L1688.90 769.60L1689.98 770.25L1692.45 771.41L1702.60 774.90L1713.89 778.97L1718.25 780.19L1722.56 780.94L1726.95 781.29L1735.48 781.60L1745.72 782.74L1750.04 782.89L1759.77 782.01L1762.40 781.90L1765.44 782.09L1769.78 782.59L1772.60 782.60L1775.27 782.16L1781.80 780.30" fill="none" stroke="#0072BD" stroke-width="3.50" stroke-linejoin="round" stroke-linecap="butt"/>
<path d="M1339.00 815.00L1384.47 813.85L1460.00 811.00L1477.55 810.60L1482.90 810.34L1486.00 810.00L1487.52 809.68L1491.00 808.60L1495.76 807.89L1498.37 807.77L1502.63 807.93L1505.23 807.89L1543.60 805.22L1571.20 802.81L1584.40 801.43L1596.40 800.02L1614.40 797.53L1631.20 794.70L1645.60 791.76L1652.80 790.08L1660.00 788.23L1669.60 785.46L1679.20 782.30L1688.80 778.65L1697.20 775.00L1705.61 770.85L1712.81 766.82L1720.00 762.29L1728.01 756.56L1734.01 751.73L1740.02 746.35L1746.02 740.37L1750.87 735.04L1756.00 728.85L1760.31 723.17L1762.76 719.69L1770.67 707.72L1771.57 706.75L1772.50 706.30L1773.61 706.75L1775.93 709.02L1776.90 709.40L1777.69 708.72L1778.31 707.39L1779.84 702.81L1781.80 695.60" fill="none" stroke="#D95319" stroke-width="3.50" stroke-linejoin="round" stroke-linecap="butt"/>
<path d="M1339.00 801.53L1352.33 797.18L1364.34 792.76L1373.67 788.76L1377.67 786.83L1382.00 784.54L1386.01 782.21L1390.01 779.63L1394.01 776.75L1397.01 774.36L1400.01 771.75L1403.00 768.89L1406.01 765.70L1408.62 762.66L1411.00 759.64L1413.42 756.27L1415.68 752.85L1418.35 748.42L1421.03 743.46L1423.00 739.47L1425.26 734.53L1427.00 730.27L1431.37 717.93L1433.63 710.99L1435.26 705.47L1438.68 691.91L1442.31 675.59L1443.65 668.49L1445.07 659.85L1450.39 624.19L1451.67 614.39L1453.62 595.46L1455.39 581.39L1455.87 579.03L1456.12 578.35L1456.40 578.10L1456.76 578.61L1457.16 579.95L1458.42 585.64L1458.82 586.99L1459.20 587.50L1459.51 587.21L1460.08 585.27L1461.42 576.64L1464.20 560.32L1466.19 546.86L1468.10 531.25L1469.18 518.82L1469.88 506.62L1473.33 433.65L1475.11 389.28L1476.55 347.70L1477.57 311.88L1478.67 265.34L1480.65 163.44L1482.35 96.10L1482.52 91.11L1482.70 89.20L1482.94 92.12L1483.25 101.19L1483.94 133.46L1484.35 176.70L1484.72 242.58L1485.53 296.30L1486.48 336.79L1488.21 387.83L1488.51 394.09L1488.70 395.30L1488.93 393.45L1490.13 362.47L1493.70 304.33L1495.42 272.61L1495.82 267.53L1496.21 264.68L1496.40 264.30L1496.50 264.40L1496.89 266.58L1497.40 272.61L1497.99 283.02L1499.57 320.40L1501.96 430.22L1503.11 469.75L1504.71 516.49L1505.82 542.80L1507.21 570.61L1509.39 609.11L1510.83 631.21L1512.55 651.63L1514.39 669.34L1516.25 683.24L1518.39 696.05L1520.64 706.76L1522.81 715.08L1528.53 734.23L1529.90 738.36L1531.44 742.39L1533.92 747.79L1536.76 753.09L1539.86 758.21L1543.19 763.14L1546.77 767.93L1550.56 772.49L1554.52 776.75L1558.71 780.77L1563.09 784.46L1566.50 787.00L1569.97 789.26L1574.78 791.97L1581.00 795.00L1586.12 797.20L1591.38 799.16L1597.00 801.00L1602.41 802.54L1608.15 803.98L1617.04 805.97L1625.80 807.77L1634.64 809.39L1642.05 810.57L1647.92 811.39L1655.17 812.22L1679.83 814.44L1726.73 818.01L1750.54 819.13L1781.80 820.10" fill="none" stroke="#77AC30" stroke-width="3.50" stroke-linejoin="round" stroke-linecap="butt"/>
<text transform="translate(1240.90 567.50) rotate(-90)" font-size="29">Normalized Im [<tspan font-family="'DejaVu Serif', serif" font-size="25" dx="-1.0">γ</tspan><tspan font-size="21" dx="-2.6" dy="7.6">OM</tspan><tspan dx="0" dy="-7.6">]</tspan></text>
<text x="1560.30" y="919.40" text-anchor="middle" font-size="29">Frequency [MHz]</text>
<path d="M1508.3 98.00H1573.9" stroke="#0072BD" stroke-width="3.50"/>
<path d="M1508.3 145.20H1573.9" stroke="#D95319" stroke-width="3.50"/>
<path d="M1508.3 192.80H1573.9" stroke="#77AC30" stroke-width="3.50"/>
<text x="1585.30" y="106.00" font-size="25">Inter LP<tspan font-size="17" dy="8.60">01</tspan><tspan dy="-8.60"> LP</tspan><tspan font-size="17" dy="8.60">02</tspan></text>
<text x="1585.30" y="154.00" font-size="25">Intra LP<tspan font-size="17" dy="8.60">01</tspan><tspan dy="-8.60"> R</tspan><tspan font-size="17" dy="8.60">0m</tspan></text>
<text x="1585.30" y="201.90" font-size="25">Intra LP<tspan font-size="17" dy="8.60">01</tspan><tspan dy="-8.60"> TR</tspan><tspan font-size="17" dy="8.60">2m</tspan></text>
</svg></body></html>
